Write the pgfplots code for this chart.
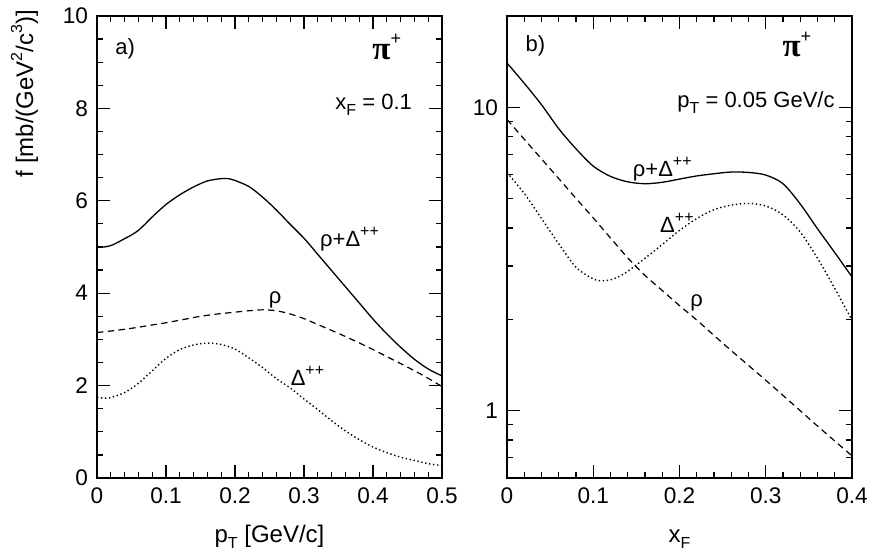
\documentclass[border=0pt]{standalone}
\usepackage{fontspec}
\setmainfont{Liberation Sans}
\newfontfamily\seriffont{Liberation Serif}
\usepackage{pgfplots}
\pgfplotsset{compat=1.18}

\newcommand{\sub}[1]{\raisebox{-0.5ex}{\fontsize{8}{8}\selectfont #1}}
\newcommand{\sups}[1]{\raisebox{0.85ex}{\fontsize{8}{8}\selectfont #1}}
\newcommand{\pip}{{\seriffont\bfseries\fontsize{16.5}{16.5}\selectfont π}\raisebox{1.25ex}{\fontsize{9}{9}\selectfont +}}
\newcommand{\ann}{\fontsize{11}{13}\selectfont}

\pgfplotsset{
  myaxis/.style={
    scale only axis, width=172.5pt, height=231pt,
    anchor=south west,
    axis line style={line width=0.75pt},
    every tick/.append style={black, line width=0.6pt},
    major tick length=6.5pt, minor tick length=3.2pt,
    tick align=inside, xtick pos=both, ytick pos=both,
    tick label style={font=\fontsize{11.3}{13}\selectfont},
    /pgf/number format/assume math mode=true,
    label style={font=\fontsize{12}{14}\selectfont},
    xlabel style={at={(axis description cs:0.5,0)}, anchor=base, yshift=-32pt},
    xticklabel style={yshift=-1.5pt},
    yticklabel style={xshift=-1pt},
  },
  solidc/.style={black, line width=0.65pt, smooth},
  dashc/.style={black, line width=0.6pt, smooth, dash pattern=on 3.2pt off 2.2pt},
  dotc/.style={black, line width=0.7pt, smooth, dash pattern=on 0.7pt off 1.3pt},
}

\begin{document}
\begin{tikzpicture}
\path[use as bounding box] (0,0) rectangle (436pt,278.5pt);

% ---------------- panel a ----------------
\begin{axis}[myaxis, at={(48.5pt,39.5pt)},
  xmin=0, xmax=0.5, ymin=0, ymax=10,
  xtick={0,0.1,0.2,0.3,0.4,0.5}, xticklabels={0,0.1,0.2,0.3,0.4,0.5},
  ytick={0,2,4,6,8,10}, yticklabels={0,2,4,6,8,10},
  minor x tick num=4, minor y tick num=3,
  xlabel={p\sub{T} [GeV/c]},
  ylabel={f [mb/(GeV\sups{2}/c\sups{3})]},
  ylabel style={at={(axis description cs:-0.1855,1.028)}, anchor=base east},
]
\addplot[solidc] coordinates {
(0,5.00)(0.01,5.00)(0.02,5.03)(0.03,5.10)(0.04,5.18)(0.05,5.26)(0.06,5.36)
(0.07,5.50)(0.08,5.65)(0.10,5.92)(0.12,6.13)(0.14,6.30)(0.16,6.43)(0.18,6.48)
(0.19,6.48)(0.20,6.44)(0.22,6.31)(0.24,6.08)(0.26,5.80)(0.28,5.49)(0.30,5.19)
(0.32,4.84)(0.34,4.49)(0.36,4.14)(0.38,3.79)(0.40,3.44)(0.42,3.12)(0.44,2.83)
(0.46,2.57)(0.48,2.36)(0.50,2.21)};
\addplot[dashc] coordinates {
(0,3.15)(0.025,3.19)(0.05,3.24)(0.075,3.30)(0.10,3.36)(0.125,3.43)(0.15,3.50)
(0.175,3.55)(0.20,3.59)(0.22,3.62)(0.24,3.64)(0.26,3.62)(0.28,3.55)(0.30,3.45)
(0.325,3.29)(0.35,3.13)(0.375,2.96)(0.40,2.78)(0.425,2.59)(0.45,2.40)(0.475,2.20)(0.50,1.98)};
\addplot[dotc] coordinates {
(0,1.75)(0.01,1.73)(0.02,1.74)(0.04,1.85)(0.06,2.05)(0.08,2.32)(0.10,2.59)
(0.12,2.78)(0.14,2.88)(0.16,2.92)(0.18,2.89)(0.20,2.79)(0.22,2.60)(0.24,2.39)
(0.26,2.15)(0.28,1.95)(0.30,1.71)(0.32,1.48)(0.34,1.24)(0.36,1.02)(0.38,0.83)
(0.40,0.67)(0.42,0.55)(0.44,0.45)(0.46,0.38)(0.48,0.31)(0.50,0.27)};
\node[anchor=west, font=\ann, inner sep=0pt] at (axis cs:0.026,9.3) {a)};
\node[font=\ann, inner sep=0pt] at (axis cs:0.42,9.33) {\pip};
\node[anchor=base, font=\ann] at (axis cs:0.401,7.98) {x\sub{F} = 0.1};
\node[anchor=base, font=\ann] at (axis cs:0.366,5.02) {ρ+Δ\sups{++}};
\node[anchor=base, font=\ann] at (axis cs:0.258,3.77) {ρ};
\node[anchor=base, font=\ann] at (axis cs:0.305,2.0) {Δ\sups{++}};
\end{axis}

% ---------------- panel b ----------------
\begin{axis}[myaxis, at={(253.5pt,39.5pt)},
  ymode=log,
  xmin=0, xmax=0.4, ymin=0.6, ymax=20,
  xtick={0,0.1,0.2,0.3,0.4}, xticklabels={0,0.1,0.2,0.3,0.4},
  minor x tick num=4,
  ytick={1,10}, yticklabels={1,10},
  minor ytick={0.6,0.7,0.8,0.9,2,3,4,5,6,7,8,9,20},
  xlabel={x\sub{F}},
]
\addplot[solidc] coordinates {
(0,14.0)(0.02,12.0)(0.04,10.2)(0.06,8.5)(0.08,7.3)(0.10,6.4)(0.12,5.92)
(0.14,5.68)(0.16,5.60)(0.18,5.66)(0.20,5.80)(0.22,5.94)(0.24,6.04)(0.26,6.12)
(0.28,6.10)(0.30,5.98)(0.32,5.60)(0.34,4.80)(0.36,3.98)(0.38,3.32)(0.40,2.76)};
\addplot[dashc] coordinates {
(0,9.12)(0.02,7.85)(0.04,6.76)(0.06,5.82)(0.08,5.01)(0.10,4.32)(0.12,3.71)
(0.14,3.19)(0.16,2.79)(0.18,2.49)(0.20,2.22)(0.22,1.99)(0.25,1.67)(0.28,1.41)
(0.30,1.26)(0.33,1.06)(0.36,0.89)(0.40,0.71)};
\addplot[dotc] coordinates {
(0,6.1)(0.02,5.2)(0.04,4.3)(0.06,3.55)(0.08,2.97)(0.10,2.72)(0.11,2.68)
(0.12,2.70)(0.13,2.77)(0.14,2.88)(0.16,3.18)(0.18,3.53)(0.20,3.93)(0.22,4.30)
(0.24,4.60)(0.26,4.76)(0.28,4.82)(0.30,4.73)(0.32,4.42)(0.34,3.88)(0.36,3.18)
(0.38,2.53)(0.40,1.99)};
\node[anchor=west, font=\ann, inner sep=0pt] at (axis cs:0.021,16.0) {b)};
\node[font=\ann, inner sep=0pt] at (axis cs:0.336,16.1) {\pip};
\node[anchor=base east, font=\ann] at (axis cs:0.388,10.0) {p\sub{T} = 0.05 GeV/c};
\node[anchor=base, font=\ann] at (axis cs:0.18,5.9) {ρ+Δ\sups{++}};
\node[anchor=base, font=\ann] at (axis cs:0.197,3.88) {Δ\sups{++}};
\node[anchor=base, font=\ann] at (axis cs:0.22,2.21) {ρ};
\end{axis}
\end{tikzpicture}
\end{document}
